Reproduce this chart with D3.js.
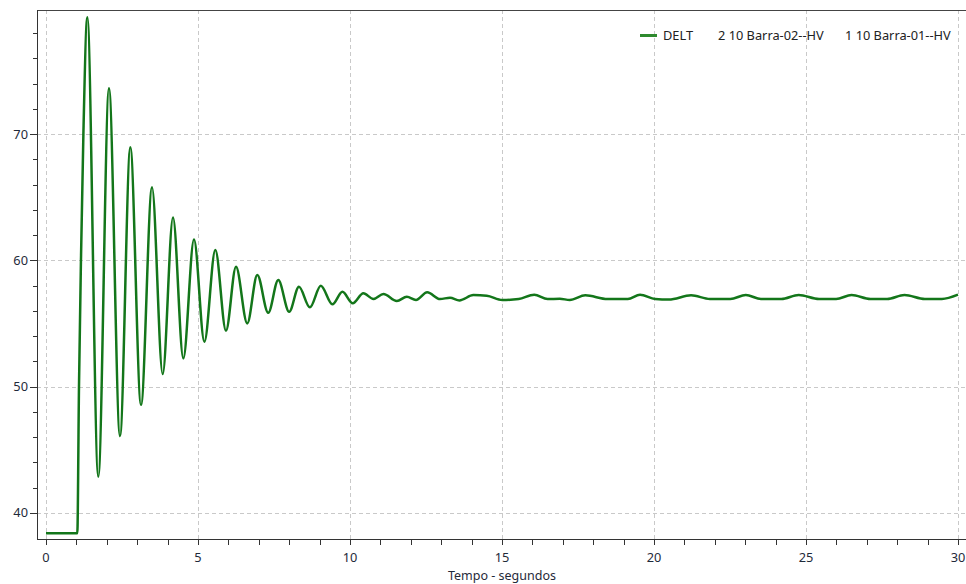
<!DOCTYPE html>
<html>
<head>
<meta charset="utf-8">
<script src="https://cdn.jsdelivr.net/npm/d3@7"></script>
<style>
  body { margin: 0; background: #fff; }
  svg { display: block; font-family: "Noto Sans", "DejaVu Sans", sans-serif; }
  .grid line { stroke: #c9c9c9; stroke-dasharray: 4,3; shape-rendering: crispEdges; }
  .axis path, .axis line { stroke: #333; shape-rendering: crispEdges; }
  .axis text { fill: #1f2a3a; font-size: 12.8px; }
</style>
</head>
<body>
<div id="chart"></div>
<script>
// series DELT (time in s, angle) - at the turning points
var tempo = [
  0, 1.03, 1.085, 1.15, 1.23, 1.359, 1.72, 2.072, 2.434, 2.774, 3.125, 3.487, 3.838,
  4.178, 4.517, 4.868, 5.21, 5.57, 5.92, 6.25, 6.62, 6.95, 7.31, 7.64, 8.00, 8.32,
  8.68, 9.04, 9.42, 9.75, 10.09, 10.44, 10.77, 11.10, 11.54, 11.87, 12.17, 12.54,
  12.96, 13.29, 13.60, 14.06, 14.50, 15.01, 15.55, 16.06, 16.50, 16.90, 17.23,
  17.74, 18.47, 19.14, 19.54, 20.04, 20.49, 21.22, 21.84, 22.51, 23.02, 23.52,
  24.19, 24.76, 25.43, 25.99, 26.50, 27.12, 27.67, 28.24, 28.91, 29.47, 30.0
];
var delt = [
  38.4, 38.4, 50, 60, 70, 79.24, 42.87, 73.62, 46.09, 68.95, 48.54, 65.78, 51.0,
  63.40, 52.24, 61.66, 53.56, 60.82, 54.43, 59.49, 55.01, 58.84, 55.85, 58.44, 55.93, 57.91,
  56.28, 57.99, 56.52, 57.51, 56.60, 57.39, 56.94, 57.33, 56.78, 57.12, 56.86, 57.47,
  56.94, 57.04, 56.83, 57.25, 57.20, 56.86, 56.94, 57.28, 56.94, 56.96, 56.86,
  57.23, 56.94, 56.94, 57.28, 56.94, 56.90, 57.23, 56.94, 56.94, 57.26, 56.94,
  56.94, 57.26, 56.94, 56.94, 57.26, 56.94, 56.94, 57.26, 56.94, 56.94, 57.28
];

var legendLabels = ["DELT", "2 10 Barra-02--HV", "1 10 Barra-01--HV"];
var xMajorTicks = [0, 5, 10, 15, 20, 25, 30];
var yMajorTicks = [40, 50, 60, 70];
var xTitle = "Tempo - segundos";

var W = 966, H = 584;
var plot = { left: 37, top: 10, right: 966, bottom: 539 };

// x: 0 s sits 9px in from the left frame, 30 s at 958px
var x = d3.scaleLinear().domain([0, 30]).range([46, 958]);
var y = d3.scaleLinear().domain([37.94, 79.82]).range([plot.bottom, plot.top]);

var svg = d3.select("#chart").append("svg")
    .attr("width", W)
    .attr("height", H);

svg.append("rect").attr("width", W).attr("height", H).attr("fill", "#fff");

svg.append("clipPath").attr("id", "clip")
  .append("rect")
    .attr("x", plot.left).attr("y", plot.top)
    .attr("width", plot.right - plot.left)
    .attr("height", plot.bottom - plot.top);

// dashed grid
var grid = svg.append("g").attr("class", "grid");
grid.selectAll(".vg").data(xMajorTicks).enter().append("line")
    .attr("x1", function(d) { return Math.round(x(d)) + 0.5; })
    .attr("x2", function(d) { return Math.round(x(d)) + 0.5; })
    .attr("y1", plot.top).attr("y2", plot.bottom);
grid.selectAll(".hg").data(yMajorTicks).enter().append("line")
    .attr("y1", function(d) { return Math.round(y(d)) + 0.5; })
    .attr("y2", function(d) { return Math.round(y(d)) + 0.5; })
    .attr("x1", plot.left).attr("x2", plot.right);

// frame top
svg.append("line")
    .attr("x1", plot.left).attr("x2", plot.right)
    .attr("y1", plot.top + 0.5).attr("y2", plot.top + 0.5)
    .attr("stroke", "#444").attr("shape-rendering", "crispEdges");

// x axis: minor ticks every second, labels every 5
var xAxis = svg.append("g").attr("class", "axis")
    .attr("transform", "translate(0," + plot.bottom + ")");
xAxis.append("path").attr("d", "M" + plot.left + ",0.5H" + plot.right);
xAxis.call(function(g) {
  var minor = d3.range(0, 31, 1);
  g.selectAll(".xt").data(minor).enter().append("line")
      .attr("x1", function(d) { return Math.round(x(d)) + 0.5; })
      .attr("x2", function(d) { return Math.round(x(d)) + 0.5; })
      .attr("y1", 0).attr("y2", 6);
  g.selectAll(".xl").data(xMajorTicks).enter().append("text")
      .attr("x", function(d) { return x(d); })
      .attr("y", 23)
      .attr("text-anchor", "middle")
      .text(function(d) { return d; });
});

// y axis: minor ticks every 2, labels every 10
var yAxis = svg.append("g").attr("class", "axis")
    .attr("transform", "translate(" + plot.left + ",0)");
yAxis.append("path").attr("d", "M0.5," + plot.top + "V" + (plot.bottom + 1));
yAxis.call(function(g) {
  var minor = d3.range(42, 80, 2).filter(function(d) { return d % 10 != 0; });
  g.selectAll(".ym").data(minor).enter().append("line")
      .attr("y1", function(d) { return Math.round(y(d)) + 0.5; })
      .attr("y2", function(d) { return Math.round(y(d)) + 0.5; })
      .attr("x1", -4).attr("x2", 0);
  g.selectAll(".yt").data(yMajorTicks).enter().append("line")
      .attr("y1", function(d) { return Math.round(y(d)) + 0.5; })
      .attr("y2", function(d) { return Math.round(y(d)) + 0.5; })
      .attr("x1", -7).attr("x2", 0);
  g.selectAll(".yl").data(yMajorTicks).enter().append("text")
      .attr("x", -9)
      .attr("y", function(d) { return y(d); })
      .attr("dy", "0.35em")
      .attr("text-anchor", "end")
      .text(function(d) { return d; });
});

svg.append("text")
    .attr("x", x(15))
    .attr("y", 580)
    .attr("text-anchor", "middle")
    .attr("font-size", 12.5)
    .attr("fill", "#1f2a3a")
    .text(xTitle);

// the curve
var points = tempo.map(function(t, i) { return [t, delt[i]]; });
var line = d3.line()
    .x(function(d) { return x(d[0]); })
    .y(function(d) { return y(d[1]); })
    .curve(d3.curveMonotoneX);

svg.append("path")
    .datum(points)
    .attr("clip-path", "url(#clip)")
    .attr("fill", "none")
    .attr("stroke", "#13761a")
    .attr("stroke-width", 2.5)
    .attr("stroke-linejoin", "round")
    .attr("d", line);

// legend
var legend = svg.append("g").attr("font-size", 12.8).attr("fill", "#222");
legend.append("line")
    .attr("x1", 640).attr("x2", 657)
    .attr("y1", 35.5).attr("y2", 35.5)
    .attr("stroke", "#2e8a2e").attr("stroke-width", 3);
var legendX = [663, 718, 845];
legend.selectAll("text").data(legendLabels).enter().append("text")
    .attr("x", function(d, i) { return legendX[i]; })
    .attr("y", 40)
    .text(function(d) { return d; });
</script>
</body>
</html>
